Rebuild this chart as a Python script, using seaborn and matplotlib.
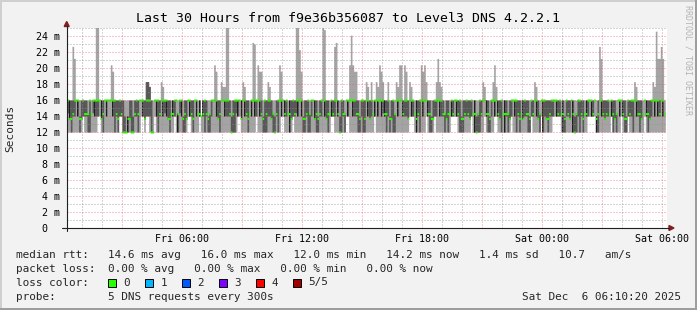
import numpy as np
import matplotlib
matplotlib.use("Agg")
import matplotlib.pyplot as plt
import seaborn as sns
from matplotlib.patches import Polygon, Rectangle
from matplotlib.lines import Line2D
import matplotlib.transforms as mtransforms

# ---------------- data (5-minute steps, 5 DNS requests each, values in ms) ----------------
start_hour = 0.15          # hours after Fri 00:00 of the first step
step_minutes = 5

ping_min = [
    12,12,12,12,12,12,12,12,12,12,14,12,
    12,12,12,12,12,12,12,14,14,12,12,12,
    12,12,12,12,12,12,12,12,14,14,12,12,
    12,12,12,12,12,12,12,12,12,14,14,12,
    14,14,12,12,12,14,12,12,12,12,12,12,
    12,12,12,12,12,14,12,12,12,12,12,12,
    12,14,14,12,12,12,12,12,14,12,12,12,
    12,12,12,12,12,12,12,12,12,12,12,12,
    12,12,12,12,12,12,12,14,14,12,12,12,
    12,12,12,12,12,12,14,12,12,12,12,12,
    12,12,12,12,12,12,12,12,12,14,14,12,
    12,12,12,12,14,12,12,12,12,12,12,12,
    12,12,12,12,12,12,12,12,12,12,12,12,
    12,12,12,14,14,12,12,12,12,12,12,12,
    14,14,12,12,12,12,12,12,12,12,12,12,
    12,12,12,12,12,14,12,12,12,12,12,12,
    12,12,12,12,12,12,12,12,12,12,12,12,
    12,12,14,14,14,12,12,12,12,12,12,12,
    14,12,12,12,12,14,12,12,12,12,12,12,
    12,12,12,14,14,14,14,12,12,12,12,12,
    12,12,12,14,12,12,12,12,12,12,12,14,
    12,12,12,12,12,14,14,12,12,12,12,12,
    12,12,12,14,12,12,12,12,12,12,12,12,
    12,12,12,14,12,12,12,12,12,14,12,12,
    12,12,12,12,14,14,14,14,14,12,12,12,
    12,12,12,12,12,12,12,12,12,12,12,12,
    12,14,14,14,14,14,12,12,12,12,12,12,
    12,12,12,14,12,12,12,12,12,14,12,12,
    12,14,12,12,12,12,12,12,12,12,12,14,
    12,12,12,12,12,12,12,12,12,12,12,12,
]
ping_lo = [
    14,14.4,13.6,12,14,14,16,14,12,13.6,14,14,
    14,12,12,14.3,14.4,14,14,14,16,13.6,12,16,
    14,16,16,16,14,12,14,12,14,14,12,12,
    12,12,13.6,12,12,14,14,12,16,16,14,13.6,
    14,14,14,12,12,16,14,12,14,16,14,14.4,
    14,13.6,12,14.3,14,14,16,12,14.4,14,12,12,
    13.6,16,14,14,12,16,14,14.3,14,14,14,12,
    14,12,12,14,16,16,14,13.6,12,16,16,14,
    14,14,14,12,12,12,14.4,14,16,13.6,16,14,
    14,12,14.3,14,16,14,14,16,14,14,12,12,
    12,14,14,13.6,12,12,14,12,16,14,16,14,
    14,14.3,12,13.6,14,14,14.4,14,16,14,12,12,
    14,12,12,14,16,13.6,12,12,14,14,16,14,
    13.6,12,14.3,14,14,14,16,14,12,12,14,12,
    16,14,16,16,14,14,14,12,12,14,12,12,
    16,14,13.6,14,14.3,14,16,14,16,14,14.4,14,
    12,14,12,13.6,12,12,16,14,16,16,14,14,
    14,13.6,16,14,14,14.3,12,14,12,16,14,16,
    16,14,12,12,13.6,14,14,16,14,14,14,12,
    13.6,12,14.3,14,14,16,14,14,12,12,12,14,
    14,14,13.6,14,14.3,12,12,12,12,14,16,16,
    14,12,12,14,16,14,16,14,13.6,12,14.3,12,
    14,12,13.6,14,16,14,12,14,12,14.3,13.6,14,
    14,12,12,14,14,16,14,13.6,12,16,12,14,
    13.6,12,14,14,14,16,14,14,14,14.3,12,12,
    14,14,13.6,16,12,12,12,14,12,14,12,14.3,
    14,14,16,14,14,16,12,12,16,14,14,13.6,
    14,14,14.3,14,12,13.6,12,16,14,16,14,12,
    12,14,14,14,12,16,14,14,12,13.6,14.3,16,
    14,12,13.6,14,16,14,16,14,14,16,14,14.3,
]
ping_med = [
    16,16,13.7,13.7,14.3,16,16,16,13.7,13.7,16,14.3,
    14.3,14.3,16,14.3,16,16,16,16,16,13.7,14.3,16,
    16,16,16,16,16,16,14.3,13.7,16,14.3,12,12,
    12,13.7,13.7,12,12,14.3,16,14.3,16,16,16,13.7,
    16,16,16,12,12,16,16,16,14.3,16,16,16,
    16,13.7,13.7,14.3,14.3,16,16,14.3,16,16,13.7,14.3,
    13.7,16,16,14.3,13.7,16,16,14.3,14.3,14,14.3,16,
    14.3,13.7,14.3,16,16,16,16,13.7,14.3,16,16,16,
    16,16,14.3,12,14.3,16,16,16,16,13.7,16,16,
    14.3,13.7,14.3,16,16,16,16,16,16,14.3,13.7,16,
    14.3,16,16,13.7,14.3,12,14.3,16,16,16,16,14.3,
    16,14.3,14.3,13.7,16,14.3,16,16,16,16,13.7,13.7,
    14.3,16,14.3,16,16,13.7,14.3,13.7,14.3,16,16,16,
    13.7,14.3,14.3,16,14.3,16,16,14.3,12,16,14.3,14.3,
    16,16,16,16,16,16,14.3,14.3,13.7,16,16,13.7,
    16,16,13.7,16,14.3,16,16,16,16,16,16,14.3,
    14.3,16,13.7,13.7,16,14.3,16,16,16,16,14.3,16,
    16,13.7,16,16,16,14.3,13.7,14.3,16,16,16,16,
    16,14.3,14.3,13.7,13.7,16,16,16,16,16,14.3,14.3,
    13.7,14.3,14.3,16,14.3,16,16,14.3,16,13.7,13.7,14.3,
    16,14.3,13.7,16,14.3,14.3,12,14.3,16,14.3,16,16,
    14.3,14.3,13.7,16,16,16,16,14.3,13.7,16,14.3,14.3,
    14.3,14.3,13.7,16,16,16,16,14.3,13.7,14.3,13.7,16,
    14.3,14.3,13.7,16,14.3,16,16,13.7,14.3,16,16,16,
    13.7,13.7,14.3,16,16,16,16,14.3,16,14.3,14.3,13.7,
    16,14.3,13.7,16,14.3,12,14.3,16,16,14.3,13.7,14.3,
    14.3,16,16,16,14.3,16,13.7,14.3,16,16,14.3,13.7,
    14.3,16,14.3,16,14.3,13.7,14.3,16,16,16,14.3,13.7,
    13.7,16,14.3,16,16,16,16,14.3,14.3,13.7,14.3,16,
    14.3,14.3,13.7,16,16,16,16,16,14.3,16,16,14.3,
]
ping_hi = [
    16,16,16,16,16,16,16,16,14,16,16,16,
    16,14.4,16,14.3,16,16,16,16,16,16,16,16,
    16,16,16,16,16,16,16,16,16,16,16,14,
    12,14,16,16,14,16,16,16,16,16,16,16,
    18.3,18.3,17.7,16,12,16,16,16,16,16,16,16,
    16,16,16,14.3,16,16,16,14.4,16,16,14,16,
    16,16,16,16,16,16,16,14.3,16,14,16,16,
    16,14,14.4,16,16,16,16,16,16,16,16,16,
    16,16,16,14,16,16,16,16,16,16,16,16,
    16,16,14.3,16,16,16,16,16,16,16,14,16,
    16,16,16,16,14.4,14,16,16,16,16,16,16,
    16,14.3,16,16,16,16,16,16,16,16,14,16,
    16,16,14.4,16,16,16,16,14,16,16,16,16,
    16,16,14.3,16,16,16,16,16,14,16,16,14.4,
    16,16,16,16,16,16,16,16,14,16,16,16,
    16,16,16,16,14.3,16,16,16,16,16,16,16,
    16,16,14,16,16,14.4,16,16,16,16,16,16,
    16,16,16,16,16,14.3,16,16,16,16,16,16,
    16,16,16,14,16,16,16,16,16,16,16,14.4,
    16,16,14.3,16,16,16,16,16,16,14,16,16,
    16,16,16,16,14.3,16,14,14.4,16,16,16,16,
    16,16,14,16,16,16,16,16,16,16,14.3,16,
    16,14.4,16,16,16,16,16,16,16,14.3,16,16,
    16,16,14,16,16,16,16,16,14.4,16,16,16,
    16,16,16,16,16,16,16,16,16,14.3,16,14,
    16,16,16,16,16,14,14.4,16,16,16,16,14.3,
    16,16,16,16,16,16,14,16,16,16,16,16,
    16,16,14.3,16,16,16,14.4,16,16,16,16,16,
    14,16,16,16,16,16,16,16,16,16,14.3,16,
    16,16,16,16,16,16,16,16,16,16,16,14.3,
]
ping_max = [
    16,16,16,16,22.7,21.2,16,16,16,16,16,16,
    16,16,16,16,16,16,25.5,25.5,16,16,16,16,
    16,16,16,20.4,19.6,16,16,16,16,16,16,16,
    16,16,16,16,16,16,16,16,16,16,16,16,
    18.3,18.3,17.7,16,16,16,16,16,16,18.3,17.7,16,
    16,16,16,16,16,16,16,16,16,16,16,16,
    16,16,16,16,16,16,16,16,16,14,16,16,
    16,16,16,16,16,20.4,19.6,16,16,18.3,17.7,17.7,
    25.5,25.5,16,16,16,16,16,16,16,16,18.3,17.7,
    16,16,16,16,23.2,23.0,16,20.4,19.6,19.6,16,16,
    16,18.3,17.7,16,16,16,16,16,20.4,19.6,16,16,
    16,16,16,16,16,16,25.5,25.5,22.3,19.6,16,16,
    16,16,16,16,16,16,16,16,16,16,25.5,24.8,
    16,16,16,16,16,22.7,23.2,16,16,16,16,16,
    16,16,20.4,24.1,20.4,19.6,19.6,16,16,16,16,16,
    18.3,17.7,16,18.3,16,16,18.3,17.7,20.4,19.6,18.3,16,
    16,18.3,16,16,16,16,18.3,17.7,20.4,20.4,16,20.4,
    19.6,16,18.3,17.7,16,16,16,16,16,20.4,19.6,20.4,
    18.3,16,16,16,16,16,18.3,21.2,18.3,17.7,16,16,
    16,16,16,16,16,16,16,16,16,16,16,16,
    16,16,16,16,16,16,16,16,16,16,18.3,17.7,
    16,16,16,16,18.3,20.4,17.7,16,16,16,16,16,
    16,16,16,16,16,16,16,16,16,16,16,16,
    16,16,16,16,16,18.3,17.7,16,16,16,16,16,
    16,16,16,16,16,16,16,16,16,16,16,16,
    16,16,16,16,16,16,16,16,16,16,16,16,
    16,16,16,16,16,16,16,16,22.7,21.2,16,16,
    16,16,16,16,16,16,16,16,16,16,16,16,
    16,16,16,16,16,18.3,17.7,16,16,16,16,16,
    16,16,16,16,18.3,17.7,24.6,21.2,21.2,22.7,21.2,16,
]

y_ticks = [0, 2, 4, 6, 8, 10, 12, 14, 16, 18, 20, 22, 24]
y_tick_labels = ["0", "2 m", "4 m", "6 m", "8 m", "10 m", "12 m", "14 m",
                 "16 m", "18 m", "20 m", "22 m", "24 m"]
x_ticks = [6, 12, 18, 24, 30]
x_tick_labels = ["Fri 06:00", "Fri 12:00", "Fri 18:00", "Sat 00:00", "Sat 06:00"]

title = "Last 30 Hours from f9e36b356087 to Level3 DNS 4.2.2.1"
loss_labels = ["0", "1", "2", "3", "4", "5/5"]
loss_colors = ["#26ff00", "#00b8ff", "#0059ff", "#7e00ff", "#ff0000", "#a10000"]
legend_rtt = "14.6 ms avg   16.0 ms max   12.0 ms min   14.2 ms now   1.4 ms sd   10.7   am/s"
legend_loss = "0.00 % avg   0.00 % max   0.00 % min   0.00 % now"
legend_probe = "5 DNS requests every 300s"
stamp = "Sat Dec  6 06:10:20 2025"

# ---------------- style ----------------
sns.set_theme(style="white")
plt.rcParams['font.family'] = ['DejaVu Sans Mono', 'DejaVu Sans']

W, H = 697, 310
fig = plt.figure(figsize=(W / 100, H / 100), dpi=100, facecolor='#f2f2f2')

def fx(x):
    return x / W

def fy(y):
    return 1 - y / H

X0, X1, YB, YT = 66.7, 666.7, 228.0, 28.0
ax = fig.add_axes([fx(X0), fy(YB), (X1 - X0) / W, (YB - YT) / H])
ax.set_facecolor('white')
ax.set_xlim(0.22, 30.22)
ax.set_ylim(0, 25)
for s in ax.spines.values():
    s.set_visible(False)

# ---------------- smoke ----------------
n = len(ping_med)
edges = start_hour + np.arange(n + 1) * step_minutes / 60.0

def ext(a):
    a = np.asarray(a, dtype=float)
    return np.append(a, a[-1])

lo = np.asarray(ping_lo, float)
hi = np.asarray(ping_hi, float)
ax.fill_between(edges, ext(ping_min), ext(ping_max), step='post',
                color='#a4a4a4', lw=0, zorder=2)
ax.fill_between(edges, ext(lo), ext(hi), step='post',
                color='#585858', lw=0, zorder=3)

# thin near-black seams where a dark band starts after a lighter column
dh = hi - lo
for k in range(1, n):
    if dh[k] >= 2 and dh[k - 1] < 2:
        ax.vlines(edges[k] + 0.02, lo[k], min(hi[k], 16), color='#1c1c1c',
                  lw=0.7, zorder=3.5)

med = ext(ping_med)
ax.fill_between(edges, med - 0.13, med + 0.13, step='post',
                color=loss_colors[0], lw=0, zorder=4)

# ---------------- grid (drawn over the graph like rrdtool) ----------------
minor_c = (0.56, 0.56, 0.56, 0.75)
major_c = (0.87, 0.31, 0.31, 0.60)
for h in range(1, 31):
    ax.axvline(h, color=major_c if h % 3 == 0 else minor_c, lw=0.72,
               ls=(0, (1, 2)), zorder=6)
for v in range(1, 26):
    ax.axhline(v, color=major_c if v % 2 == 0 else minor_c, lw=0.72,
               ls=(0, (1, 2)), zorder=6)

# ---------------- ticks ----------------
ax.set_yticks(y_ticks)
ax.set_yticklabels(y_tick_labels)
ax.set_xticks(x_ticks)
ax.set_xticklabels(x_tick_labels)
ax.tick_params(axis='y', length=0, pad=4.6, labelsize=7.2, colors='black')
ax.tick_params(axis='x', length=0, pad=4.0, labelsize=7.2, colors='black')
lab0 = ax.get_yticklabels()[0]
lab0.set_transform(lab0.get_transform() +
                   mtransforms.ScaledTranslation(-13.3 / 100, 0, fig.dpi_scale_trans))
ax.grid(False)

# ---------------- axes lines and arrows ----------------
axis_c = '#1f1f1f'
arrow_c = '#801f1f'
fig.add_artist(Line2D([fx(62), fx(669)], [fy(228), fy(228)], color=axis_c, lw=0.8))
fig.add_artist(Line2D([fx(X0), fx(X0)], [fy(231), fy(26)], color=axis_c, lw=0.8))
fig.add_artist(Polygon([(fx(669), fy(225.5)), (fx(669), fy(230.5)), (fx(674), fy(228))],
                       closed=True, color=arrow_c, transform=fig.transFigure))
fig.add_artist(Polygon([(fx(64.2), fy(26.5)), (fx(69.2), fy(26.5)), (fx(X0), fy(21.5))],
                       closed=True, color=arrow_c, transform=fig.transFigure))

# ---------------- texts ----------------
fig.text(fx(347.5), fy(19), title, ha='center', va='center', fontsize=9.5, color='black')
fig.text(fx(10), fy(128), "Seconds", rotation=90, ha='center', va='center', fontsize=8)
fig.text(fx(688), fy(60), "RRDTOOL / TOBI OETIKER", rotation=270, ha='center',
         va='center', fontsize=6, color='#b4b4b4')

lfs = 7.9
rows_y = [255, 268.5, 282.5, 296.5]
col2 = 108
fig.text(fx(16.4), fy(rows_y[0]), "median rtt:", ha='left', va='center', fontsize=lfs)
fig.text(fx(col2), fy(rows_y[0]), legend_rtt, ha='left', va='center', fontsize=lfs)
fig.text(fx(16.4), fy(rows_y[1]), "packet loss:", ha='left', va='center', fontsize=lfs)
fig.text(fx(col2), fy(rows_y[1]), legend_loss, ha='left', va='center', fontsize=lfs)
fig.text(fx(16.4), fy(rows_y[2]), "loss color:", ha='left', va='center', fontsize=lfs)
for i, (lab, col) in enumerate(zip(loss_labels, loss_colors)):
    bx = 108.4 + i * 36.9
    fig.add_artist(Rectangle((fx(bx), fy(rows_y[2] + 4)), 7.6 / W, 8 / H,
                             facecolor=col, edgecolor='black', lw=0.7,
                             transform=fig.transFigure))
    fig.text(fx(bx + 15), fy(rows_y[2]), lab, ha='left', va='center', fontsize=lfs)
fig.text(fx(16.4), fy(rows_y[3]), "probe:", ha='left', va='center', fontsize=lfs)
fig.text(fx(col2), fy(rows_y[3]), legend_probe, ha='left', va='center', fontsize=lfs)
fig.text(fx(680.5), fy(rows_y[3]), stamp, ha='right', va='center', fontsize=lfs)

# ---------------- 3D frame ----------------
fig.add_artist(Rectangle((0, 0), 1, 2 / H, facecolor='#9e9e9e', lw=0, transform=fig.transFigure))
fig.add_artist(Rectangle((1 - 2 / W, 0), 2 / W, 1, facecolor='#9e9e9e', lw=0, transform=fig.transFigure))
fig.add_artist(Rectangle((0, 1 - 2 / H), 1 - 2 / W, 2 / H, facecolor='#cfcfcf', lw=0, transform=fig.transFigure))
fig.add_artist(Rectangle((0, 2 / H), 2 / W, 1 - 4 / H, facecolor='#cfcfcf', lw=0, transform=fig.transFigure))

fig.savefig("out.png", dpi=100, facecolor=fig.get_facecolor())
